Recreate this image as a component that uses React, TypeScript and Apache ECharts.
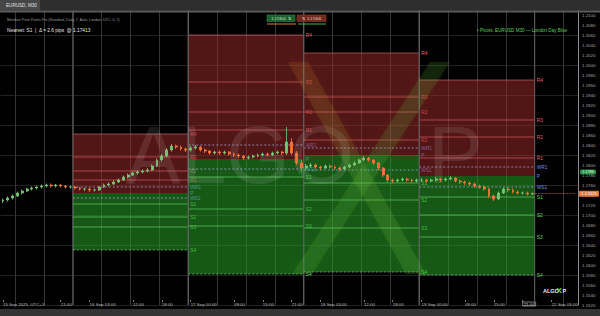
import React, { useEffect, useRef } from "react";
import * as echarts from "echarts";

// ---------- DATA ----------
// H1 candles: [open, close, low, high]
const ohlc: number[][] = [
  [1.1728, 1.1730, 1.1724, 1.1733], [1.1730, 1.1734, 1.1727, 1.1737], [1.1734, 1.1738, 1.1731, 1.1741],
  [1.1738, 1.1744, 1.1736, 1.1747], [1.1744, 1.1748, 1.1741, 1.1751], [1.1748, 1.1752, 1.1746, 1.1755],
  [1.1752, 1.1754, 1.1749, 1.1757], [1.1754, 1.1756, 1.1751, 1.1759], [1.1756, 1.1758, 1.1753, 1.1761],
  [1.1758, 1.1760, 1.1755, 1.1763], [1.1760, 1.1758, 1.1755, 1.1763], [1.1758, 1.1760, 1.1755, 1.1762],
  [1.1760, 1.1758, 1.1755, 1.1762], [1.1758, 1.1756, 1.1753, 1.1760], [1.1756, 1.1756, 1.1753, 1.1759],
  [1.1756, 1.1754, 1.1751, 1.1758], [1.1754, 1.1752, 1.1749, 1.1756], [1.1752, 1.1752, 1.1748, 1.1755],
  [1.1752, 1.1750, 1.1746, 1.1754], [1.1750, 1.1750, 1.1747, 1.1753], [1.1750, 1.1756, 1.1748, 1.1758],
  [1.1756, 1.1760, 1.1754, 1.1763], [1.1760, 1.1762, 1.1757, 1.1765], [1.1762, 1.1766, 1.1760, 1.1769],
  [1.1766, 1.1770, 1.1764, 1.1773], [1.1770, 1.1776, 1.1768, 1.1779], [1.1776, 1.1780, 1.1773, 1.1783],
  [1.1780, 1.1784, 1.1778, 1.1787], [1.1784, 1.1786, 1.1781, 1.1789], [1.1786, 1.1788, 1.1783, 1.1791],
  [1.1788, 1.1790, 1.1785, 1.1794], [1.1790, 1.1798, 1.1788, 1.1801], [1.1798, 1.1810, 1.1796, 1.1813],
  [1.1810, 1.1818, 1.1807, 1.1822], [1.1818, 1.1830, 1.1816, 1.1834], [1.1830, 1.1838, 1.1827, 1.1842],
  [1.1838, 1.1836, 1.1832, 1.1841], [1.1836, 1.1832, 1.1829, 1.1839], [1.1832, 1.1830, 1.1826, 1.1835],
  [1.1830, 1.1834, 1.1827, 1.1838], [1.1834, 1.1836, 1.1831, 1.1840], [1.1836, 1.1830, 1.1827, 1.1838],
  [1.1830, 1.1828, 1.1824, 1.1833], [1.1828, 1.1824, 1.1821, 1.1830], [1.1824, 1.1826, 1.1821, 1.1829],
  [1.1826, 1.1824, 1.1820, 1.1829], [1.1824, 1.1826, 1.1821, 1.1829], [1.1826, 1.1822, 1.1819, 1.1828],
  [1.1822, 1.1820, 1.1816, 1.1825], [1.1820, 1.1818, 1.1814, 1.1823], [1.1818, 1.1814, 1.1810, 1.1820],
  [1.1814, 1.1816, 1.1811, 1.1819], [1.1816, 1.1818, 1.1813, 1.1821], [1.1818, 1.1820, 1.1815, 1.1823],
  [1.1820, 1.1822, 1.1817, 1.1825], [1.1822, 1.1820, 1.1817, 1.1825], [1.1820, 1.1824, 1.1818, 1.1827],
  [1.1824, 1.1826, 1.1821, 1.1829], [1.1826, 1.1824, 1.1820, 1.1828], [1.1824, 1.1846, 1.1820, 1.1876],
  [1.1846, 1.1824, 1.1820, 1.1854], [1.1824, 1.1804, 1.1800, 1.1828], [1.1804, 1.1794, 1.1786, 1.1810],
  [1.1794, 1.1798, 1.1790, 1.1802], [1.1798, 1.1800, 1.1794, 1.1804], [1.1800, 1.1796, 1.1792, 1.1803],
  [1.1796, 1.1794, 1.1790, 1.1799], [1.1794, 1.1798, 1.1792, 1.1801], [1.1798, 1.1796, 1.1793, 1.1801],
  [1.1796, 1.1794, 1.1790, 1.1799], [1.1794, 1.1792, 1.1788, 1.1797], [1.1792, 1.1796, 1.1790, 1.1799],
  [1.1796, 1.1800, 1.1794, 1.1803], [1.1800, 1.1804, 1.1798, 1.1807], [1.1804, 1.1810, 1.1802, 1.1813],
  [1.1810, 1.1814, 1.1807, 1.1818], [1.1814, 1.1810, 1.1806, 1.1816], [1.1810, 1.1804, 1.1800, 1.1812],
  [1.1804, 1.1794, 1.1790, 1.1806], [1.1794, 1.1780, 1.1776, 1.1796], [1.1780, 1.1770, 1.1765, 1.1782],
  [1.1770, 1.1768, 1.1764, 1.1773], [1.1768, 1.1770, 1.1765, 1.1773], [1.1770, 1.1772, 1.1767, 1.1775],
  [1.1772, 1.1770, 1.1767, 1.1775], [1.1770, 1.1768, 1.1765, 1.1773], [1.1768, 1.1770, 1.1765, 1.1773],
  [1.1770, 1.1770, 1.1766, 1.1774], [1.1770, 1.1768, 1.1764, 1.1773], [1.1768, 1.1770, 1.1765, 1.1773],
  [1.1770, 1.1772, 1.1767, 1.1776], [1.1772, 1.1770, 1.1766, 1.1775], [1.1770, 1.1772, 1.1767, 1.1775],
  [1.1772, 1.1774, 1.1769, 1.1778], [1.1774, 1.1768, 1.1765, 1.1776], [1.1768, 1.1766, 1.1762, 1.1771],
  [1.1766, 1.1764, 1.1760, 1.1769], [1.1764, 1.1762, 1.1758, 1.1767], [1.1762, 1.1758, 1.1754, 1.1765],
  [1.1758, 1.1756, 1.1752, 1.1761], [1.1756, 1.1752, 1.1748, 1.1759], [1.1752, 1.1738, 1.1734, 1.1754],
  [1.1738, 1.1732, 1.1728, 1.1741], [1.1732, 1.1744, 1.1730, 1.1747], [1.1744, 1.1752, 1.1742, 1.1755],
  [1.1752, 1.1750, 1.1746, 1.1755], [1.1750, 1.1746, 1.1743, 1.1753], [1.1746, 1.1744, 1.1741, 1.1749],
  [1.1744, 1.1744, 1.1741, 1.1747], [1.1744, 1.1742, 1.1739, 1.1747], [1.1742, 1.17425, 1.1740, 1.1745],
];

// daily pivot boxes (category index range) and levels
const dayStart = [15, 39, 63, 87];
const dayEnd = [38, 62, 86, 110];
const levelNames = ["R4", "R3", "R2", "R1", "WR1", "P", "WS1", "S1", "S2", "S3", "S4"];
const R4 = [1.1862, 1.2060, 1.2024, 1.1970];
const R3 = [1.1816, 1.1966, 1.1936, 1.1890];
const R2 = [1.1788, 1.1906, 1.1906, 1.1856];
const R1 = [1.1770, 1.1870, 1.1850, 1.1814];
const WR1 = [1.1756, 1.1840, 1.1834, 1.1796];
const P = [1.1744, 1.1812, 1.1820, 1.1778];
const WS1 = [1.1734, 1.1792, 1.1790, 1.1756];
const S1 = [1.1722, 1.1776, 1.1764, 1.1736];
const S2 = [1.1696, 1.1712, 1.1730, 1.1700];
const S3 = [1.1676, 1.1678, 1.1674, 1.1656];
const S4 = [1.1630, 1.1582, 1.1586, 1.1580];

// x-axis tick labels (category index -> text)
const xTickIdx = [0, 12, 18, 27, 33, 39, 48, 54, 60, 66, 75, 81, 87, 96, 102, 108, 114];
const xTickText = [
  "15 Sep 2025, UTC+3", "21:00", "16 Sep 03:00", "12:00", "18:00", "17 Sep 00:00", "09:00", "15:00",
  "21:00", "18 Sep 03:00", "12:00", "18:00", "19 Sep 00:00", "09:00", "15:00", "21:00", "22 Sep 03:00",
];
const cursorTickIdx = 108;

const lastPrice = 1.17425;
const askPrice = 1.1786;

const FONT = "Liberation Sans, Arial, sans-serif";

function buildCategories(): string[] {
  const out: string[] = [];
  const pad = (n: number) => (n < 10 ? "0" + n : "" + n);
  const fmt = (t: number) => {
    const d = new Date(t);
    return `${d.getUTCDate()} Sep ${pad(d.getUTCHours())}:00`;
  };
  const start = Date.UTC(2025, 8, 15, 9);
  for (let i = 0; i < 111; i++) out.push(fmt(start + i * 3600e3));
  const mon = Date.UTC(2025, 8, 22, 0);
  for (let i = 0; i < 9; i++) out.push(fmt(mon + i * 3600e3));
  return out;
}

const levelArrays = [R4, R3, R2, R1, WR1, P, WS1, S1, S2, S3, S4];

function levelStyle(name: string) {
  if (name === "WR1" || name === "WS1")
    return { stroke: "rgba(160,175,235,0.7)", dash: [2, 2], text: "#6f92ea", show: true };
  if (name === "P") return { stroke: "rgba(160,175,235,0.0)", dash: null, text: "#6f92ea", show: false };
  if (name[0] === "R")
    return { stroke: name === "R4" ? "rgba(240,140,140,0.5)" : "rgba(240,115,115,0.55)", dash: null, text: "#ea6262", show: true };
  if (name === "S4") return { stroke: "rgba(140,230,140,0.6)", dash: [2, 2], text: "#62dc62", show: true };
  return { stroke: "rgba(120,235,120,0.55)", dash: null, text: "#62dc62", show: true };
}

function renderBox(params: any, api: any) {
  const s = api.value(0);
  const e = api.value(1);
  const band = api.size([1, 0])[0];
  const x0 = api.coord([s, api.value(2)])[0] - band / 2;
  const x1 = api.coord([e, api.value(2)])[0] + band / 2;
  const w = x1 - x0;
  const yv = (k: number) => api.coord([s, api.value(k)])[1];
  const cs = params.coordSys;
  const yR4 = yv(2);
  const yP = yv(7);
  const yS4 = yv(12);
  const children: any[] = [];
  children.push({ type: "rect", shape: { x: x0, y: yR4, width: w, height: yP - yR4 }, style: { fill: "rgba(160,42,42,0.52)" } });
  children.push({ type: "rect", shape: { x: x0, y: yP, width: w, height: yS4 - yP }, style: { fill: "rgba(42,160,42,0.55)" } });
  for (let k = 0; k < levelNames.length; k++) {
    const name = levelNames[k];
    const st = levelStyle(name);
    const y = yv(k + 2);
    if (st.show) {
      children.push({
        type: "line",
        shape: { x1: x0, y1: y, x2: x1, y2: y },
        style: { stroke: st.stroke, lineWidth: 1, lineDash: st.dash || undefined },
      });
    }
    children.push({
      type: "text",
      x: x1 + 2,
      y: y,
      style: { text: name, fill: st.text, fontSize: 4.8, fontFamily: FONT, verticalAlign: "middle", align: "left" },
    });
  }
  // day separators
  children.push({ type: "line", shape: { x1: x0, y1: cs.y, x2: x0, y2: cs.y + cs.height }, style: { stroke: "#5e5e5e", lineWidth: 1 } });
  children.push({ type: "line", shape: { x1: x1, y1: cs.y, x2: x1, y2: cs.y + cs.height }, style: { stroke: "#5e5e5e", lineWidth: 1 } });
  return { type: "group", children };
}

export default function App() {
  const ref = useRef<HTMLDivElement>(null);
  useEffect(() => {
    if (!ref.current) return;
    const chart = echarts.init(ref.current, undefined, { renderer: "svg" });
    const categories = buildCategories();
    const tickSet = new Set(xTickIdx);
    const boxData = dayStart.map((s, d) => [s, dayEnd[d], ...levelArrays.map((a) => a[d])]);
    const lastIdx = ohlc.length - 1;

    const option: any = {
      animation: false,
      backgroundColor: "#000",
      grid: { left: 0, right: 22, top: 5, bottom: 11, containLabel: false },
      xAxis: [
        {
          type: "category",
          data: categories,
          boundaryGap: true,
          offset: -5,
          axisLine: { show: false },
          axisTick: {
            show: true,
            alignWithLabel: true,
            interval: (i: number) => tickSet.has(i),
            length: 2,
            lineStyle: { color: "#9a9a9a", width: 0.8 },
          },
          axisLabel: {
            interval: (i: number) => tickSet.has(i),
            formatter: (_v: string, i: number) => {
              const k = xTickIdx.indexOf(i);
              if (k < 0) return "";
              return i === cursorTickIdx ? `{b|${xTickText[k]}}` : xTickText[k];
            },
            rich: {
              b: { borderColor: "#cfcfcf", borderWidth: 0.6, padding: [0, 1, 0, 1], fontSize: 4.4, color: "#cfcfcf", fontFamily: FONT },
            },
            align: "left",
            fontSize: 4.4,
            color: "#bdbdbd",
            fontFamily: FONT,
            margin: 2,
          },
          splitLine: { show: true, interval: (i: number) => i % 6 === 3, lineStyle: { color: "#353535", width: 1 } },
        },
      ],
      yAxis: [
        {
          type: "value",
          position: "right",
          min: 1.152,
          max: 1.212,
          interval: 0.002,
          axisLine: { show: true, lineStyle: { color: "#8c8c8c", width: 1 } },
          axisTick: { show: false },
          axisLabel: {
            fontSize: 4.4,
            color: "#a9a9a9",
            fontFamily: FONT,
            margin: 4,
            showMaxLabel: false,
            formatter: (v: number) => v.toFixed(4),
          },
          splitLine: { show: false },
        },
        {
          type: "value",
          position: "right",
          min: 1.152,
          max: 1.212,
          interval: 0.006,
          axisLine: { show: false },
          axisTick: { show: false },
          axisLabel: { show: false },
          splitLine: { show: true, lineStyle: { color: "#222222", width: 1 } },
        },
      ],
      series: [
        {
          type: "custom",
          z: 1,
          silent: true,
          clip: false,
          renderItem: renderBox,
          data: boxData,
          encode: { x: [0, 1], y: [2, 12] },
        },
        {
          type: "candlestick",
          z: 3,
          data: ohlc,
          barWidth: 2.4,
          itemStyle: {
            color: "#79c879",
            color0: "#f0763c",
            borderColor: "#79c879",
            borderColor0: "#f0763c",
            borderWidth: 0.8,
          },
          markLine: {
            silent: true,
            symbol: "none",
            label: { show: false },
            lineStyle: { color: "#e8843c", type: "dotted", width: 0.7 },
            data: [[{ coord: [lastIdx, lastPrice] }, { coord: [categories.length - 1, lastPrice] }]],
          },
        },
      ],
    };
    chart.setOption(option);

    const yLast = chart.convertToPixel({ yAxisIndex: 0 }, lastPrice) as number;
    const yAsk = chart.convertToPixel({ yAxisIndex: 0 }, askPrice) as number;

    const wmFill = "rgba(255,255,255,0.10)";
    const graphic: any[] = [
      // watermark
      { type: "text", z: 2, silent: true, x: 126, y: 154, style: { text: "ALGO", fill: wmFill, fontSize: 82, fontFamily: FONT, verticalAlign: "middle" } },
      { type: "text", z: 2, silent: true, x: 428, y: 154, style: { text: "P", fill: wmFill, fontSize: 82, fontFamily: FONT, verticalAlign: "middle" } },
      {
        type: "polygon", z: 2, silent: true,
        shape: { points: [[288, 62], [308, 62], [426, 274], [406, 274]] },
        style: {
          fill: new echarts.graphic.LinearGradient(0, 0, 0, 1, [
            { offset: 0, color: "rgba(230,130,40,0.14)" },
            { offset: 0.5, color: "rgba(150,200,60,0.15)" },
            { offset: 1, color: "rgba(90,200,60,0.18)" },
          ]),
          shadowBlur: 10,
          shadowColor: "rgba(120,200,60,0.3)",
        },
      },
      {
        type: "polygon", z: 2, silent: true,
        shape: { points: [[430, 62], [450, 62], [312, 274], [292, 274]] },
        style: { fill: "rgba(100,200,60,0.15)", shadowBlur: 10, shadowColor: "rgba(100,200,60,0.3)" },
      },
      // top bar
      { type: "rect", z: 10, shape: { x: 0, y: 0, width: 600, height: 10.5 }, style: { fill: "#2e2e2e" } },
      { type: "rect", z: 10, shape: { x: 0, y: 0, width: 40, height: 10.5 }, style: { fill: "#474747" } },
      { type: "text", z: 11, x: 6, y: 5.5, style: { text: "EURUSD, M30", fill: "#e0e0e0", fontSize: 4.6, fontFamily: FONT, verticalAlign: "middle" } },
      { type: "rect", z: 10, shape: { x: 0, y: 10.5, width: 600, height: 2 }, style: { fill: "#5c5c5c" } },
      // bottom bar
      { type: "rect", z: 10, shape: { x: 0, y: 309, width: 600, height: 7 }, style: { fill: "#343434" } },
      // header texts
      { type: "text", z: 11, x: 7, y: 19.5, style: { text: "Meridian Pivot Points Pro (Standard, Daily, 7, Auto, London, UTC, 0, 1)", fill: "#9a9a9a", fontSize: 3.6, fontFamily: FONT, verticalAlign: "middle" } },
      { type: "text", z: 11, x: 7, y: 30, style: { text: "Nearest: S1  |  Δ = 2.6 pips  @ 1.17413", fill: "#e6e6e6", fontSize: 4.8, fontFamily: FONT, verticalAlign: "middle" } },
      // buttons
      { type: "rect", z: 11, shape: { x: 267, y: 15, width: 28, height: 6.5 }, style: { fill: "#1c5e2c", stroke: "#2f8a45", lineWidth: 0.6 } },
      { type: "text", z: 12, x: 281, y: 18.3, style: { text: "1.17404  ⇅", fill: "#cfe8cf", fontSize: 4, fontFamily: FONT, align: "center", verticalAlign: "middle" } },
      { type: "rect", z: 11, shape: { x: 297, y: 15, width: 29, height: 6.5 }, style: { fill: "#6e2a1e", stroke: "#9a3e2a", lineWidth: 0.6 } },
      { type: "text", z: 12, x: 311.5, y: 18.3, style: { text: "⇅  1.17406", fill: "#f0d0c8", fontSize: 4, fontFamily: FONT, align: "center", verticalAlign: "middle" } },
      { type: "line", z: 11, shape: { x1: 267, y1: 24, x2: 296, y2: 24 }, style: { stroke: "#e07a3a", lineWidth: 1 } },
      { type: "line", z: 11, shape: { x1: 298, y1: 24, x2: 326, y2: 24 }, style: { stroke: "#3fb34f", lineWidth: 1 } },
      // legend
      { type: "text", z: 11, x: 567, y: 30, style: { text: "• Pivots: EURUSD M30 — London Day Blue", fill: "#5ccf5c", fontSize: 4.6, fontFamily: FONT, align: "right", verticalAlign: "middle" } },
      // price tags
      { type: "rect", z: 11, shape: { x: 579, y: yLast - 3, width: 20, height: 6, r: 1 }, style: { fill: "#e5763a" } },
      { type: "text", z: 12, x: 589, y: yLast, style: { text: lastPrice.toFixed(5), fill: "#ffffff", fontSize: 4.4, fontFamily: FONT, align: "center", verticalAlign: "middle" } },
      { type: "rect", z: 11, shape: { x: 580, y: yAsk - 2.6, width: 16, height: 5.2, r: 1.5 }, style: { fill: "#27914a" } },
      { type: "text", z: 12, x: 588, y: yAsk, style: { text: askPrice.toFixed(4), fill: "#e8ffe8", fontSize: 3.8, fontFamily: FONT, align: "center", verticalAlign: "middle" } },
      // bottom-right logo
      { type: "text", z: 11, x: 543, y: 291, style: { text: "ALGO", fill: "#f0f0f0", fontSize: 5.5, fontWeight: "bold", fontFamily: FONT, verticalAlign: "middle" } },
      { type: "text", z: 11, x: 556.5, y: 290.5, style: { text: "X", fill: "#6fd23c", fontSize: 8, fontWeight: "bold", fontFamily: FONT, verticalAlign: "middle" } },
      { type: "text", z: 11, x: 562.5, y: 291, style: { text: "P", fill: "#f0f0f0", fontSize: 5.5, fontWeight: "bold", fontFamily: FONT, verticalAlign: "middle" } },
    ];
    chart.setOption({ graphic });

    return () => chart.dispose();
  }, []);

  return <div ref={ref} style={{ position: "fixed", left: 0, top: 0, width: 600, height: 316 }} />;
}
